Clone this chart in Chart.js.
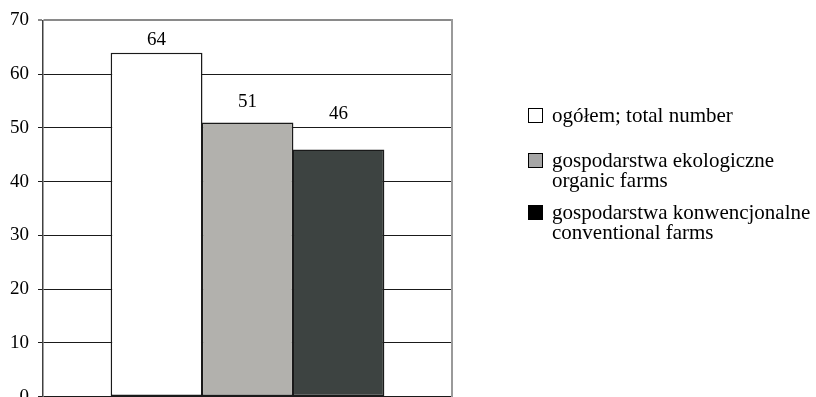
<!DOCTYPE html>
<html lang="pl">
<head>
    <meta charset="UTF-8">
    <title>Gospodarstwa ekologiczne i konwencjonalne</title>
    <script src="https://cdn.jsdelivr.net/npm/chart.js@4.4.1/dist/chart.umd.min.js"></script>
    <style>
        html, body {
            margin: 0;
            padding: 0;
            background: #ffffff;
            overflow: hidden;
        }
        .wrap {
            position: relative;
            width: 816px;
            height: 397px;
            overflow: hidden;
        }
        #farmChart {
            position: absolute;
            left: 0;
            top: 0;
        }
        .legend {
            position: absolute;
            left: 528px;
            top: 0;
            font-family: 'Liberation Serif', 'Times New Roman', serif;
            font-size: 21px;
            line-height: 20px;
            color: #000;
        }
        .legend-item {
            position: absolute;
            left: 0;
            white-space: nowrap;
        }
        .legend-item:nth-child(1) { top: 105px; }
        .legend-item:nth-child(2) { top: 150px; }
        .legend-item:nth-child(3) { top: 202px; }
        .swatch {
            position: absolute;
            left: 0;
            top: 3px;
            width: 13px;
            height: 13px;
            border: 1px solid #000;
        }
        .legend-text {
            margin-left: 24px;
        }
    </style>
</head>
<body>
    <div class="wrap">
        <!-- canvas is a bit taller than the page so the 0 label gets cut at the bottom edge -->
        <canvas id="farmChart" width="816" height="417"></canvas>
        <div class="legend" id="legend"></div>
    </div>

    <script>
        // values per series (one group of bars)
        const categories = [''];
        const seriesNames = [
            ['ogółem; total number'],
            ['gospodarstwa ekologiczne', 'organic farms'],
            ['gospodarstwa konwencjonalne', 'conventional farms']
        ];
        const seriesValues = [64, 51, 46];
        const yMin = 0;
        const yMax = 70;
        const yStep = 10;

        const barColors = ['#ffffff', '#b2b1ad', '#3d4341'];
        const swatchColors = ['#ffffff', '#a6a6a6', '#000000'];
        const fontFamily = "'Liberation Serif', 'Times New Roman', serif";

        // value labels above the bars (Excel had them nudged by hand)
        const valueLabels = {
            id: 'valueLabels',
            afterDatasetsDraw(chart, args, opts) {
                const ctx = chart.ctx;
                ctx.save();
                ctx.font = '19px ' + fontFamily;
                ctx.fillStyle = '#000';
                ctx.textAlign = 'center';
                ctx.textBaseline = 'middle';
                chart.data.datasets.forEach((ds, i) => {
                    const bar = chart.getDatasetMeta(i).data[0];
                    ctx.fillText(String(ds.data[0]), bar.x, bar.y - opts.offsets[i]);
                });
                ctx.restore();
            }
        };

        // bars touch each other, slight overlap so no seam shows between them
        const datasets = seriesValues.map((v, i) => ({
            label: seriesNames[i].join(' '),
            data: [v],
            backgroundColor: barColors[i],
            borderColor: '#1a1a1a',
            borderWidth: 1.5,
            borderSkipped: false,
            categoryPercentage: 0.667,
            barPercentage: 1.01
        }));

        new Chart(document.getElementById('farmChart'), {
            type: 'bar',
            data: {
                labels: categories,
                datasets: datasets
            },
            options: {
                responsive: false,
                animation: false,
                layout: {
                    padding: { top: 13, left: 1, right: 364, bottom: 15 }
                },
                plugins: {
                    legend: { display: false },
                    tooltip: { enabled: false },
                    valueLabels: { offsets: [13, 20, 35] }
                },
                scales: {
                    x: {
                        display: false
                    },
                    y: {
                        min: yMin,
                        max: yMax,
                        ticks: {
                            stepSize: yStep,
                            color: '#000',
                            padding: 9,
                            font: { family: fontFamily, size: 19 }
                        },
                        grid: {
                            tickLength: 5,
                            color: (c) => c.tick && c.tick.value === yMax ? '#8a8a8a' : '#1a1a1a',
                            lineWidth: (c) => c.tick && c.tick.value === yMax ? 2 : 1
                        },
                        border: { color: '#404040', width: 1.5 }
                    },
                    yRight: {
                        position: 'right',
                        min: yMin,
                        max: yMax,
                        ticks: { display: false },
                        grid: { display: false, drawTicks: false },
                        border: { display: true, color: '#9a9a9a', width: 2 }
                    }
                }
            },
            plugins: [valueLabels]
        });

        // legend on the right, two-line labels
        const legendEl = document.getElementById('legend');
        seriesNames.forEach((lines, i) => {
            const item = document.createElement('div');
            item.className = 'legend-item';
            const sw = document.createElement('span');
            sw.className = 'swatch';
            sw.style.background = swatchColors[i];
            const txt = document.createElement('div');
            txt.className = 'legend-text';
            txt.innerHTML = lines.join('<br>');
            item.appendChild(sw);
            item.appendChild(txt);
            legendEl.appendChild(item);
        });
    </script>
</body>
</html>
